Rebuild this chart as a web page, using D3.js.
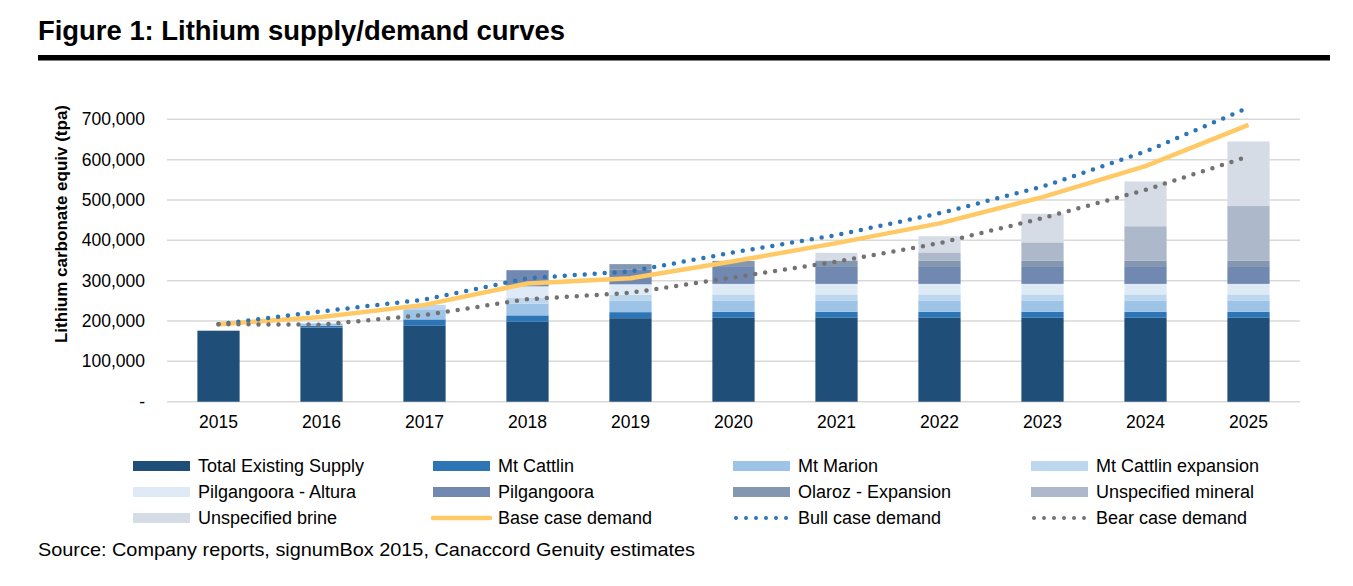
<!DOCTYPE html>
<html><head><meta charset="utf-8">
<script src="https://cdn.jsdelivr.net/npm/d3@7/dist/d3.min.js"></script>
<style>
html,body{margin:0;padding:0;background:#fff;}
svg{display:block;}
text{font-family:"Liberation Sans",Arial,sans-serif;fill:#000;}
</style></head>
<body>
<svg id="chart" width="1353" height="586"></svg>
<script>
const years = ["2015","2016","2017","2018","2019","2020","2021","2022","2023","2024","2025"];
const totalExisting   = [176000,184000,188000,198000,207000,208000,208000,208000,208000,208000,208000];
const mtCattlin       = [0,4000,16000,16000,15000,15000,15000,15000,15000,15000,15000];
const mtMarion        = [0,6000,25000,29000,28000,28000,28000,28000,28000,28000,28000];
const mtCattlinExp    = [0,0,11000,14000,15000,15000,15000,15000,15000,15000,15000];
const pilgAltura      = [0,0,0,29000,26000,26000,26000,26000,26000,26000,26000];
const pilgangoora     = [0,0,0,40000,36000,44000,44000,44000,44000,44000,44000];
const olarozExp       = [0,0,0,0,14000,13000,14000,14000,14000,14000,14000];
const unspecMineral   = [0,0,0,0,0,0,0,20000,45000,85000,135000];
const unspecBrine     = [0,0,0,0,0,0,19000,40000,71000,111000,160000];
const baseDemand      = [192000,210000,240000,293000,306000,348000,393000,442000,507000,584000,686000];
const bullDemand      = [192000,224000,253000,306000,323000,370000,413000,467000,533000,620000,729000];
const bearDemand      = [192000,191000,215000,254000,270000,308000,347000,393000,455000,525000,608000];
const yTicks = [0,100000,200000,300000,400000,500000,600000,700000];

const barSeries = [
  {name:"Total Existing Supply", values: totalExisting, color:"#1f4e79"},
  {name:"Mt Cattlin", values: mtCattlin, color:"#2e75b6"},
  {name:"Mt Marion", values: mtMarion, color:"#9dc3e6"},
  {name:"Mt Cattlin expansion", values: mtCattlinExp, color:"#bdd7ee"},
  {name:"Pilgangoora - Altura", values: pilgAltura, color:"#deebf7"},
  {name:"Pilgangoora", values: pilgangoora, color:"#7189b1"},
  {name:"Olaroz - Expansion", values: olarozExp, color:"#8497b0"},
  {name:"Unspecified mineral", values: unspecMineral, color:"#adb9ca"},
  {name:"Unspecified brine", values: unspecBrine, color:"#d6dce5"}
];
const lineSeries = [
  {name:"Base case demand", values: baseDemand, color:"#ffc965", dotted:false},
  {name:"Bull case demand", values: bullDemand, color:"#2e75b6", dotted:true},
  {name:"Bear case demand", values: bearDemand, color:"#767171", dotted:true}
];

const svg = d3.select("#chart");
const plotL = 167, plotR = 1300, plotT = 119.3, plotB = 401.7;

// Title
svg.append("text").attr("x",38).attr("y",40)
  .attr("textLength",527).attr("lengthAdjust","spacingAndGlyphs")
  .style("font-family","'Liberation Sans Narrow','Liberation Sans',Arial,sans-serif")
  .style("font-weight","bold").style("font-size","27px")
  .text("Figure 1: Lithium supply/demand curves");
svg.append("rect").attr("x",38).attr("y",55).attr("width",1292).attr("height",5.5).attr("fill","#000");

const x = d3.scaleBand().domain(years).range([plotL,plotR]).paddingInner(0.59).paddingOuter(0.295);
const y = d3.scaleLinear().domain([0,700000]).range([plotB,plotT]);

// gridlines
svg.append("g").selectAll("line").data(yTicks).join("line")
  .attr("x1",plotL).attr("x2",plotR)
  .attr("y1",d=>y(d)).attr("y2",d=>y(d))
  .attr("stroke","#d9d9d9").attr("stroke-width",1.5);

// y axis
const yAxis = svg.append("g").attr("transform",`translate(${plotL},0)`)
  .call(d3.axisLeft(y).tickValues(yTicks).tickSize(0).tickPadding(22)
    .tickFormat(d => d===0 ? "-" : d3.format(",")(d)));
yAxis.select(".domain").remove();
yAxis.selectAll("text").style("font-size","17.5px").style("font-family","'Liberation Sans',Arial,sans-serif").attr("fill","#000");

// x axis
const xAxis = svg.append("g").attr("transform",`translate(0,${plotB})`)
  .call(d3.axisBottom(x).tickSize(0).tickPadding(14));
xAxis.select(".domain").remove();
xAxis.selectAll("text").style("font-size","17.5px").style("font-family","'Liberation Sans',Arial,sans-serif").attr("fill","#000");

// y axis title
svg.append("text")
  .attr("transform","translate(67,224) rotate(-90)")
  .attr("text-anchor","middle")
  .style("font-size","17px").style("font-weight","bold")
  .text("Lithium carbonate equiv (tpa)");

// stacked bars
const rows = years.map((yr,i)=>{
  const o = {year:yr};
  barSeries.forEach(s=>o[s.name]=s.values[i]);
  return o;
});
const stack = d3.stack().keys(barSeries.map(s=>s.name));
const stacked = stack(rows);
svg.append("g").selectAll("g").data(stacked).join("g")
  .attr("fill",(d,i)=>barSeries[i].color)
  .selectAll("rect").data(d=>d).join("rect")
  .attr("x",d=>x(d.data.year))
  .attr("width",x.bandwidth())
  .attr("y",d=>y(d[1]))
  .attr("height",d=>y(d[0])-y(d[1]));

// lines
const cx = yr => x(yr)+x.bandwidth()/2;
const lineGen = d3.line().x((d,i)=>cx(years[i])).y(d=>y(d));
lineSeries.forEach(s=>{
  const p = svg.append("path").datum(s.values)
    .attr("d",lineGen).attr("fill","none").attr("stroke",s.color);
  if(s.dotted){
    p.attr("stroke-width",4.5).attr("stroke-dasharray","0 10").attr("stroke-linecap","round");
  } else {
    p.attr("stroke-width",4.5).attr("stroke-linejoin","round");
  }
});

// legend
const legendItems = barSeries.map(s=>({name:s.name,color:s.color,type:"box"}))
  .concat(lineSeries.map(s=>({name:s.name,color:s.color,type:s.dotted?"dot":"line"})));
const colX = [133,433,733,1031];
const rowY = [466,492,518];
const lg = svg.append("g");
legendItems.forEach((it,i)=>{
  const c = i%4, r = Math.floor(i/4);
  const gx = colX[c], gy = rowY[r];
  if(it.type==="box"){
    lg.append("rect").attr("x",gx).attr("y",gy-5).attr("width",57).attr("height",10).attr("fill",it.color);
  } else if(it.type==="line"){
    lg.append("line").attr("x1",gx).attr("x2",gx+57).attr("y1",gy).attr("y2",gy)
      .attr("stroke",it.color).attr("stroke-width",4.5).attr("stroke-linecap","round");
  } else {
    lg.append("line").attr("x1",gx+3).attr("x2",gx+56).attr("y1",gy).attr("y2",gy)
      .attr("stroke",it.color).attr("stroke-width",4).attr("stroke-dasharray","0 10").attr("stroke-linecap","round");
  }
  lg.append("text").attr("x",gx+65).attr("y",gy).attr("dy","0.35em")
    .style("font-size","18px").text(it.name);
});

// source
svg.append("text").attr("x",38).attr("y",556)
  .attr("textLength",657).attr("lengthAdjust","spacingAndGlyphs")
  .style("font-size","18.5px")
  .text("Source: Company reports, signumBox 2015, Canaccord Genuity estimates");
</script>
</body></html>
